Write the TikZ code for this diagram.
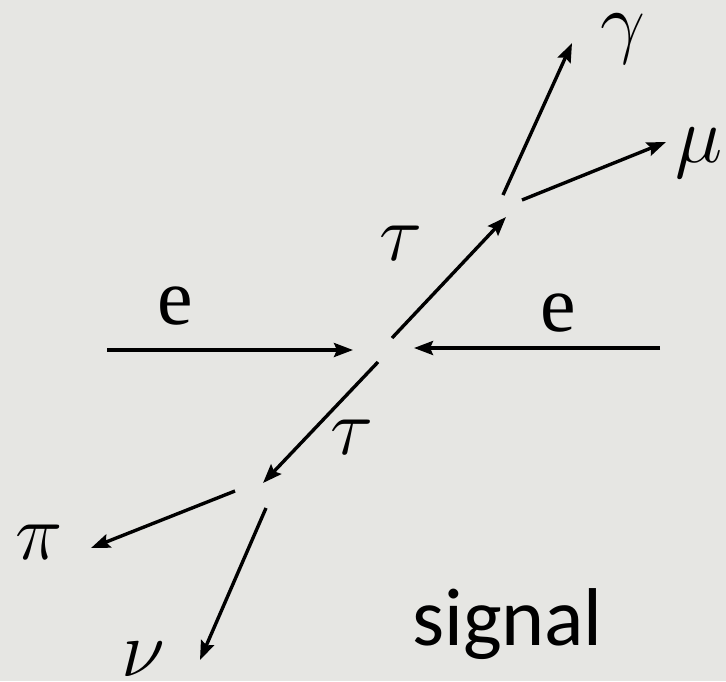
\RequirePackage{fix-cm}
\documentclass[tikz,border=0pt]{standalone}
\usepackage{fontspec}
\usetikzlibrary{arrows.meta}
\newfontfamily\signalfont{Carlito}
\newfontfamily\beamfont{Liberation Serif}
\definecolor{cPaper}{HTML}{E6E6E3}
\definecolor{cInk}{HTML}{000000}

\begin{document}
\begin{tikzpicture}[
    x=1pt, y=-1pt,
    track/.style={-{Stealth[length=19pt, width=14pt, inset=3pt]},
                  line width=3.4pt, cInk},
    lbl/.style={font=\fontsize{80}{96}\selectfont, inner sep=0pt, text=cInk},
    beam/.style={font=\beamfont\fontsize{80}{96}\selectfont, inner sep=0pt,
                 text=cInk},
    tag/.style={font=\signalfont\fontsize{82}{98}\selectfont, inner sep=0pt,
                text=cInk},
]

% ===========================================================================
% Fondo
% ===========================================================================
\fill[cPaper] (0,0) rectangle (726,681);
\useasboundingbox (0,0) rectangle (726,681);

% ===========================================================================
% Haces e e
% ===========================================================================
\coordinate (eLin)  at (107,350);
\coordinate (eLtip) at (353,350);
\coordinate (eRin)  at (660,348);
\coordinate (eRtip) at (414,348);

\draw[track] (eLin) -- (eLtip);
\draw[track] (eRin) -- (eRtip);
\node[beam] (eL) at (175,306) {e};
\node[beam] (eR) at (558,313) {e};

% ===========================================================================
% Par de tau
% ===========================================================================
\coordinate (tUpA) at (392,338);
\coordinate (tUpB) at (506,217);
\coordinate (tDnA) at (378,362);
\coordinate (tDnB) at (263,483);

\draw[track] (tUpA) -- (tUpB);
\draw[track] (tDnA) -- (tDnB);
\node[lbl] (tauUp) at (401,243) {$\tau$};
\node[lbl] (tauDn) at (352,437) {$\tau$};

% ----- tau -> mu gamma -----
\coordinate (gamA) at (503,195);
\coordinate (gamB) at (572,43);
\coordinate (muA)  at (522,200);
\coordinate (muB)  at (666,142);

\draw[track] (gamA) -- (gamB);
\draw[track] (muA) -- (muB);
\node[lbl] (gam) at (623,39) {$\gamma$};
\node[lbl] (mu)  at (699,153) {$\mu$};

% ----- tau -> pi nu -----
\coordinate (piA) at (235,491);
\coordinate (piB) at (91,548);
\coordinate (nuA) at (266,508);
\coordinate (nuB) at (200,660);

\draw[track] (piA) -- (piB);
\draw[track] (nuA) -- (nuB);
\node[lbl] (pi) at (39,542)  {$\pi$};
\node[lbl] (nu) at (143,659) {$\nu$};

% ===========================================================================
% Rotulo
% ===========================================================================
\node[tag, anchor=base west] (sig) at (412,645) {signal};

\end{tikzpicture}
\end{document}
